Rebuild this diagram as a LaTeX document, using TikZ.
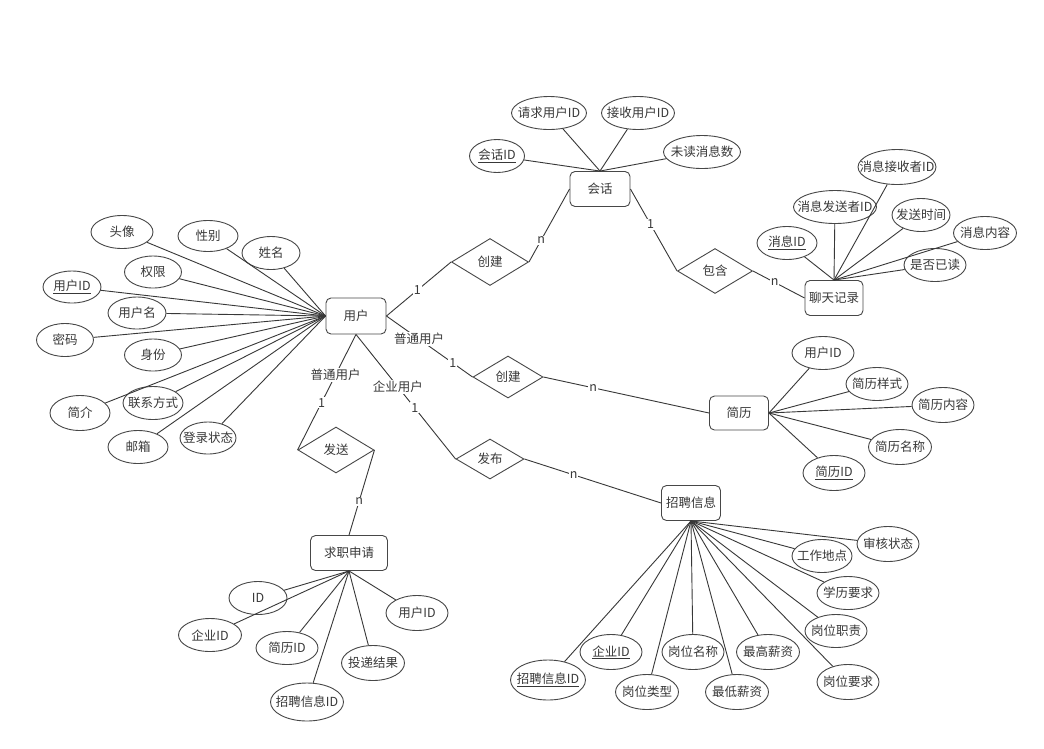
\documentclass[tikz,border=0pt]{standalone}
\usepackage{fontspec}
\setmainfont{Noto Sans CJK SC}
\usetikzlibrary{shapes.geometric}
\newcommand\zw[1]{\makebox[0pt]{#1}}
\begin{document}
\begin{tikzpicture}[x=1pt,y=-1pt,
  every node/.style={font=\fontsize{12.5}{14}\selectfont, text=black!78},
  ent/.style={draw=black!72, line width=0.9pt, rounded corners=5pt, inner sep=2pt},
  attr/.style={draw=black!72, line width=0.9pt, ellipse, inner sep=0pt},
  rel/.style={draw=black!72, line width=0.9pt, diamond, inner sep=0pt},
  ln/.style={draw=black!78, line width=0.9pt},
  lab/.style={fill=white, inner sep=1pt}]
\fill[white] (0,0) rectangle (1044,748);
\useasboundingbox (0,0) rectangle (1044,748);

% entities
\node[ent, minimum width=60pt, minimum height=36pt] (user) at (356,316) {用户};
\node[ent, minimum width=60pt, minimum height=35pt] (session) at (600,189) {会话};
\node[ent, minimum width=58pt, minimum height=35pt] (chat) at (834,298) {聊天记录};
\node[ent, minimum width=59pt, minimum height=34pt] (resume) at (739,413) {简历};
\node[ent, minimum width=59pt, minimum height=35pt] (job) at (691,503) {招聘信息};
\node[ent, minimum width=77pt, minimum height=35pt] (apply) at (349,553) {求职申请};

% relationships
\node[rel, minimum width=77pt, minimum height=47pt] (d1) at (490,262) {创建};
\node[rel, minimum width=75pt, minimum height=45pt] (d2) at (715,271) {包含};
\node[rel, minimum width=70pt, minimum height=42pt] (d3) at (508,377) {创建};
\node[rel, minimum width=76pt, minimum height=46pt] (d4) at (336,450) {发送};
\node[rel, minimum width=68pt, minimum height=40pt] (d5) at (490,459) {发布};

% user attributes
\node[attr, minimum width=62pt, minimum height=33pt] (u1) at (122,232) {\zw{头像}};
\node[attr, minimum width=60pt, minimum height=31pt] (u2) at (208,236) {\zw{性别}};
\node[attr, minimum width=58pt, minimum height=33pt] (u3) at (271,253) {\zw{姓名}};
\node[attr, minimum width=57pt, minimum height=32pt] (u4) at (153,272) {\zw{权限}};
\node[attr, minimum width=58pt, minimum height=32pt] (u5) at (72,287) {\zw{\underline{用户ID}}};
\node[attr, minimum width=58pt, minimum height=32pt] (u6) at (137,313) {\zw{用户名}};
\node[attr, minimum width=57pt, minimum height=33pt] (u7) at (65,340) {\zw{密码}};
\node[attr, minimum width=57pt, minimum height=32pt] (u8) at (153,355) {\zw{身份}};
\node[attr, minimum width=60pt, minimum height=35pt] (u9) at (80,413) {\zw{简介}};
\node[attr, minimum width=60pt, minimum height=33pt] (u10) at (153,403) {\zw{联系方式}};
\node[attr, minimum width=60pt, minimum height=33pt] (u11) at (138,447) {\zw{邮箱}};
\node[attr, minimum width=56pt, minimum height=32pt] (u12) at (208,438) {\zw{登录状态}};
\foreach \a in {u1,u2,u3,u4,u5,u6,u7,u8,u9,u10,u11,u12}
  \draw[ln] (\a) -- (user.west);

% session attributes
\node[attr, minimum width=75pt, minimum height=33pt] (s1) at (549,113) {\zw{请求用户ID}};
\node[attr, minimum width=73pt, minimum height=33pt] (s2) at (638,113) {\zw{接收用户ID}};
\node[attr, minimum width=55pt, minimum height=33pt] (s3) at (497,156) {\zw{\underline{会话ID}}};
\node[attr, minimum width=77pt, minimum height=33pt] (s4) at (702,152) {\zw{未读消息数}};
\foreach \a in {s1,s2,s3,s4}
  \draw[ln] (\a) -- (session.north);

% chat attributes
\node[attr, minimum width=78pt, minimum height=35pt] (c1) at (897,167) {\zw{消息接收者ID}};
\node[attr, minimum width=83pt, minimum height=33pt] (c2) at (835,207) {\zw{消息发送者ID}};
\node[attr, minimum width=58pt, minimum height=33pt] (c3) at (921,215) {\zw{发送时间}};
\node[attr, minimum width=60pt, minimum height=33pt] (c4) at (787,243) {\zw{\underline{消息ID}}};
\node[attr, minimum width=63pt, minimum height=33pt] (c5) at (985,233) {\zw{消息内容}};
\node[attr, minimum width=62pt, minimum height=33pt] (c6) at (935,265) {\zw{是否已读}};
\foreach \a in {c1,c2,c3,c4,c5,c6}
  \draw[ln] (\a) -- (chat.north);

% resume attributes
\node[attr, minimum width=62pt, minimum height=33pt] (r1) at (823,353) {\zw{用户ID}};
\node[attr, minimum width=62pt, minimum height=33pt] (r2) at (877,384) {\zw{简历样式}};
\node[attr, minimum width=62pt, minimum height=35pt] (r3) at (943,405) {\zw{简历内容}};
\node[attr, minimum width=63pt, minimum height=35pt] (r4) at (900,447) {\zw{简历名称}};
\node[attr, minimum width=62pt, minimum height=35pt] (r5) at (834,473) {\zw{\underline{简历ID}}};
\foreach \a in {r1,r2,r3,r4,r5}
  \draw[ln] (\a) -- (resume.east);

% job attributes
\node[attr, minimum width=62pt, minimum height=35pt] (j1) at (888,544) {\zw{审核状态}};
\node[attr, minimum width=60pt, minimum height=33pt] (j2) at (822,556) {\zw{工作地点}};
\node[attr, minimum width=62pt, minimum height=33pt] (j3) at (848,593) {\zw{学历要求}};
\node[attr, minimum width=62pt, minimum height=33pt] (j4) at (836,631) {\zw{岗位职责}};
\node[attr, minimum width=62pt, minimum height=35pt] (j5) at (848,682) {\zw{岗位要求}};
\node[attr, minimum width=75pt, minimum height=40pt] (j6) at (548,680) {\zw{\underline{招聘信息ID}}};
\node[attr, minimum width=62pt, minimum height=35pt] (j7) at (611,652) {\zw{\underline{企业ID}}};
\node[attr, minimum width=63pt, minimum height=35pt] (j8) at (647,692) {\zw{岗位类型}};
\node[attr, minimum width=62pt, minimum height=35pt] (j9) at (693,652) {\zw{岗位名称}};
\node[attr, minimum width=63pt, minimum height=35pt] (j10) at (737,692) {\zw{最低薪资}};
\node[attr, minimum width=63pt, minimum height=35pt] (j11) at (768,652) {\zw{最高薪资}};
\foreach \a in {j1,j2,j3,j4,j5,j6,j7,j8,j9,j10,j11}
  \draw[ln] (\a) -- (job.south);

% application attributes
\node[attr, minimum width=58pt, minimum height=33pt] (a1) at (258,598) {\zw{ID}};
\node[attr, minimum width=62pt, minimum height=35pt] (a2) at (417,613) {\zw{用户ID}};
\node[attr, minimum width=63pt, minimum height=33pt] (a3) at (210,635) {\zw{企业ID}};
\node[attr, minimum width=62pt, minimum height=33pt] (a4) at (287,648) {\zw{简历ID}};
\node[attr, minimum width=63pt, minimum height=35pt] (a5) at (373,663) {\zw{投递结果}};
\node[attr, minimum width=73pt, minimum height=38pt] (a6) at (307,702) {\zw{招聘信息ID}};
\foreach \a in {a1,a2,a3,a4,a5,a6}
  \draw[ln] (\a) -- (apply.south);

% relationship connectors
\draw[ln] (user.east) -- node[lab, pos=0.48] {1} (d1.west);
\draw[ln] (d1.east) -- node[lab, pos=0.3] {n} (session.west);
\draw[ln] (session.east) -- node[lab, pos=0.43] {1} (d2.west);
\draw[ln] (d2.east) -- node[lab, pos=0.42] {n} (chat.west);
\draw[ln] (user.east) -- node[lab, pos=0.38] {普通用户} node[lab, pos=0.77] {1} (d3.west);
\draw[ln] (d3.east) -- node[lab, pos=0.3] {n} (resume.west);
\draw[ln] (user.south) -- node[lab, pos=0.35] {普通用户} node[lab, pos=0.59] {1} (d4.west);
\draw[ln] (d4.east) -- node[lab, pos=0.6] {n} (apply.north);
\draw[ln] (user.south) -- node[lab, pos=0.42] {企业用户} node[lab, pos=0.59] {1} (d5.west);
\draw[ln] (d5.east) -- node[lab, pos=0.36] {n} (job.west);
\end{tikzpicture}
\end{document}
